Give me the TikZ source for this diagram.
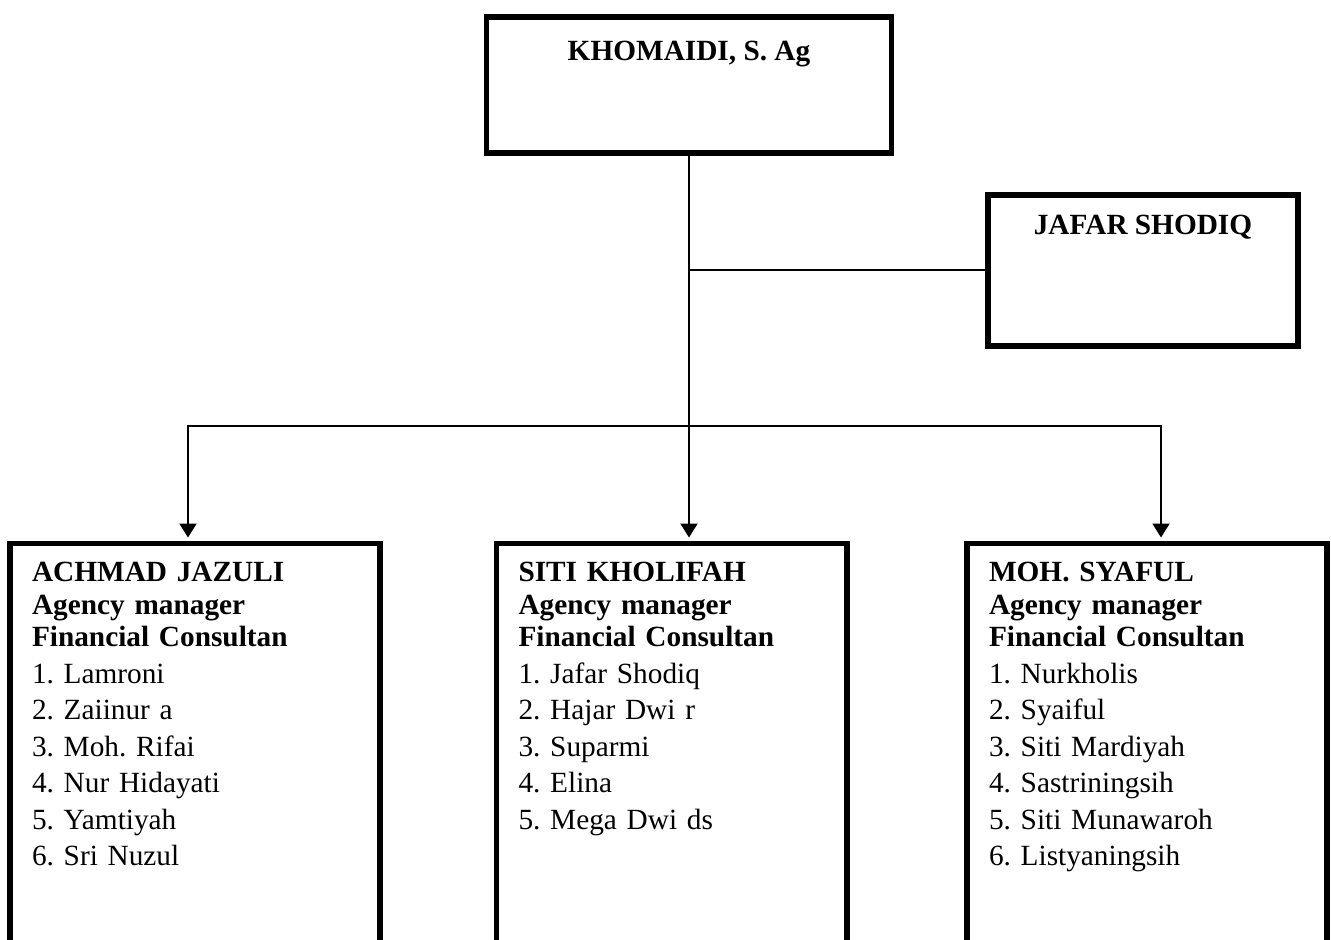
\documentclass[tikz,border=0pt]{standalone}
\usepackage{fontspec}
\setmainfont{Liberation Serif}
\usetikzlibrary{arrows.meta,positioning}
\frenchspacing

\begin{document}
\begin{tikzpicture}[
  x=1pt, y=-1pt,
  >={Triangle[length=14pt,width=17pt]},
  boxed/.style={draw, line width=5.5pt, inner sep=0pt, anchor=north,
                font=\bfseries\fontsize{29.3}{32.5}\selectfont},
  member/.style={boxed, align=left, inner xsep=22pt, text height=38.5pt, text depth=420pt},
  link/.style={line width=2pt},
  arr/.style={->, line width=2pt, shorten >=3pt}
]
\path[use as bounding box, clip] (0,0) rectangle (1331,940);
\fill[white] (0,0) rectangle (1331,940);

% top of the chart
\node[boxed, minimum width=405pt, text height=44pt, text depth=92pt] (boss) at (689,14) {KHOMAIDI, S. Ag};
\node[boxed, minimum width=310pt, text height=40pt, text depth=111pt] (jafar) at (1143,192) {JAFAR SHODIQ};

% the three groups, cut off at the bottom
\node[member, text width=326pt] (left) at (195,540.5)
  {ACHMAD JAZULI\\Agency manager\\Financial Consultan\\[4pt]\mdseries
   1. Lamroni\\[4pt]2. Zaiinur a\\[4pt]3. Moh. Rifai\\[4pt]4. Nur Hidayati\\[4pt]5. Yamtiyah\\[4pt]6. Sri Nuzul};
\node[member, text width=306.5pt] (mid) at (671.75,540.5)
  {SITI KHOLIFAH\\Agency manager\\Financial Consultan\\[4pt]\mdseries
   1. Jafar Shodiq\\[4pt]2. Hajar Dwi r\\[4pt]3. Suparmi\\[4pt]4. Elina\\[4pt]5. Mega Dwi ds};
\node[member, text width=316pt] (right) at (1147,540.5)
  {MOH. SYAFUL\\Agency manager\\Financial Consultan\\[4pt]\mdseries
   1. Nurkholis\\[4pt]2. Syaiful\\[4pt]3. Siti Mardiyah\\[4pt]4. Sastriningsih\\[4pt]5. Siti Munawaroh\\[4pt]6. Listyaningsih};

% connectors
\coordinate (split) at (689,426);
\draw[link] (jafar.west) -- (jafar.west -| boss.south);
\draw[arr] (boss.south) -- (boss.south |- mid.north);
\draw[arr] (split) -| ([xshift=-7pt]left.north);
\draw[arr] (split) -| ([xshift=14pt]right.north);
\end{tikzpicture}
\end{document}
